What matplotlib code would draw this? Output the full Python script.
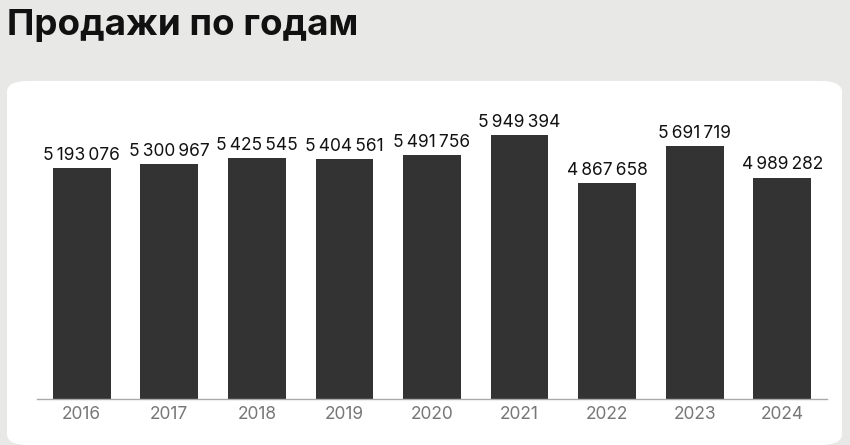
import matplotlib
matplotlib.use("Agg")
import matplotlib.pyplot as plt
from matplotlib.patches import FancyBboxPatch

years = ["2016", "2017", "2018", "2019", "2020", "2021", "2022", "2023", "2024"]
sales = [5193076, 5300967, 5425545, 5404561, 5491756, 5949394, 4867658, 5691719, 4989282]

W, H = 850, 445
fig = plt.figure(figsize=(W / 100, H / 100), dpi=100)
fig.patch.set_facecolor("#e8e9e7")

# white rounded card behind the axes
card = FancyBboxPatch((7 / W, 0.0 / H), 835 / W, 364 / H,
                      boxstyle="round,pad=0,rounding_size=0.025",
                      transform=fig.transFigure, facecolor="white",
                      edgecolor="none", zorder=-5)
fig.patches.append(card)

fig.text(7 / W, 1 - 26 / H, "Продажи по годам", fontsize=26.5, fontweight="bold",
         family="Inter", color="#111111", va="center", ha="left")

ax = fig.add_axes([37 / W, 1 - 399 / H, 790 / W, 289 / H])
ax.set_zorder(2)
ax.set_facecolor("none")
x = range(len(years))
ax.bar(x, sales, width=0.66, color="#333333", zorder=2)
for xi, v in zip(x, sales):
    ax.annotate(f"{v:,}".replace(",", "\u2009"), (xi, v), xytext=(0, 3),
                textcoords="offset points", ha="center", va="bottom",
                fontsize=12.5, family="Inter", color="#111111")

ax.set_xlim(-0.51, 8.51)
ax.set_ylim(0, 6.51e6)
ax.set_xticks(list(x))
ax.set_xticklabels(years, fontsize=12.5, color="#777777", family="Inter")
ax.tick_params(axis="x", length=0, pad=5)
ax.set_yticks([])
for s in ["top", "right", "left"]:
    ax.spines[s].set_visible(False)
ax.spines["bottom"].set_color("#aaaaaa")
ax.spines["bottom"].set_linewidth(1)

fig.savefig("out.png", dpi=100, facecolor=fig.get_facecolor())
